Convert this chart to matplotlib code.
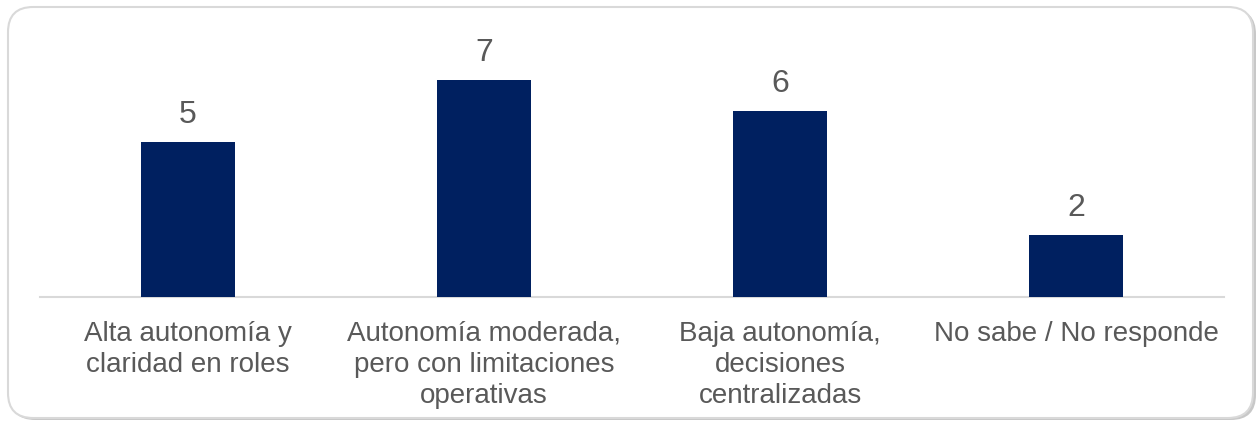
import matplotlib.pyplot as plt
from matplotlib.patches import FancyBboxPatch

categories = [
    "Alta autonomía y\nclaridad en roles",
    "Autonomía moderada,\npero con limitaciones\noperativas",
    "Baja autonomía,\ndecisiones\ncentralizadas",
    "No sabe / No responde",
]
values = [5, 7, 6, 2]

BAR_COLOR = "#002060"
TEXT_COLOR = "#595959"

plt.rcParams['font.family'] = ['Liberation Sans', 'DejaVu Sans']

W, H = 1258, 422
fig = plt.figure(figsize=(W / 100, H / 100), dpi=100)

# marco redondeado con sombra
shadow = FancyBboxPatch((10 / W, 2 / H), 1246 / W, 411 / H,
                        boxstyle="round,pad=0,rounding_size=0.02",
                        transform=fig.transFigure, facecolor="#c8c8c8",
                        edgecolor="none", mutation_aspect=W / H, zorder=-2)
frame = FancyBboxPatch((8 / W, 4 / H), 1245 / W, 411 / H,
                       boxstyle="round,pad=0,rounding_size=0.02",
                       transform=fig.transFigure, facecolor="white",
                       edgecolor="#d9d9d9", linewidth=1.5,
                       mutation_aspect=W / H, zorder=-1)
fig.patches.extend([shadow, frame])

ax = fig.add_axes([40 / W, 125 / H, 1184 / W, 248 / H])
ax.set_facecolor("none")
x = range(len(categories))
bars = ax.bar(x, values, width=0.315, color=BAR_COLOR, zorder=3)

for b, v in zip(bars, values):
    ax.text(b.get_x() + b.get_width() / 2, v + 0.38, str(v),
            ha="center", va="bottom", fontsize=23, color=TEXT_COLOR)

ax.set_xlim(-0.5, len(categories) - 0.5)
ax.set_ylim(0, 8)
ax.set_xticks(list(x))
ax.set_xticklabels(categories, fontsize=20, color=TEXT_COLOR, linespacing=1.25)
ax.tick_params(axis="x", length=0, pad=17)
ax.set_yticks([])
for s in ["top", "left", "right"]:
    ax.spines[s].set_visible(False)
ax.spines["bottom"].set_color("#d9d9d9")
ax.spines["bottom"].set_linewidth(1.5)

fig.savefig("out.png", dpi=100)
